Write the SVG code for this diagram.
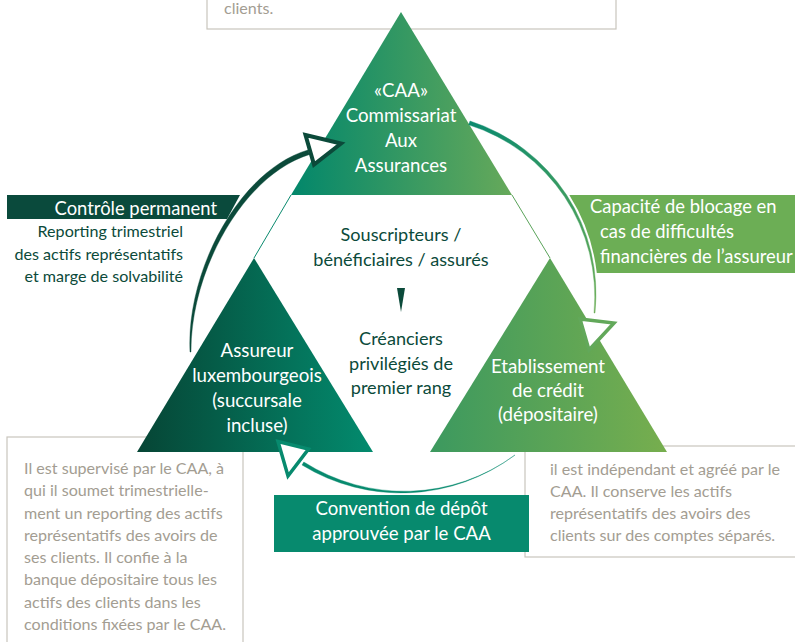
<svg xmlns="http://www.w3.org/2000/svg" width="795" height="642" viewBox="0 0 795 642">
<defs>
<linearGradient id="gTop" gradientUnits="userSpaceOnUse" x1="291" y1="0" x2="512" y2="0"><stop offset="0" stop-color="#02876b"/><stop offset="1" stop-color="#66a95a"/></linearGradient>
<linearGradient id="gLeft" gradientUnits="userSpaceOnUse" x1="137" y1="0" x2="373" y2="0"><stop offset="0" stop-color="#064535"/><stop offset="1" stop-color="#038b6e"/></linearGradient>
<linearGradient id="gRight" gradientUnits="userSpaceOnUse" x1="430" y1="0" x2="667" y2="0"><stop offset="0" stop-color="#3c995f"/><stop offset="1" stop-color="#77ae4e"/></linearGradient>
<linearGradient id="gArcR" gradientUnits="userSpaceOnUse" x1="470" y1="121" x2="595" y2="313"><stop offset="0" stop-color="#0a8a6e"/><stop offset="1" stop-color="#6aad55"/></linearGradient>
<linearGradient id="gShH" x1="0" y1="0" x2="1" y2="0"><stop offset="0" stop-color="#a8a49b" stop-opacity="0"/><stop offset="0.15" stop-color="#a8a49b"/><stop offset="1" stop-color="#a8a49b"/></linearGradient>
</defs>
<style>
text{font-family:Lato,"Open Sans","Liberation Sans",sans-serif}
.w{fill:#fff;font-size:18.7px;text-anchor:middle}
.wl{fill:#fff;font-size:18.4px}
.d{fill:#0b4a3a;font-size:18.1px;text-anchor:middle}
.dr{fill:#0b4a3a;font-size:16.1px;text-anchor:end}
.g{fill:#a39d92;font-size:16.1px}
.bx{fill:#fff;stroke:#c9c5bd;stroke-width:1.2}
.sh{fill:none;stroke:url(#gShH);stroke-width:2}
.ah{fill:#fff;stroke-linejoin:miter}
</style>

<g id="box-top">
<rect class="bx" x="207" y="-20" width="409" height="49"/>
<line class="sh" x1="198" y1="29" x2="617" y2="29"/>
<text class="g" x="224" y="14">clients.</text>
</g>

<g id="box-left">
<rect class="bx" x="7" y="437" width="236" height="230"/>
<line class="sh" x1="0" y1="437" x2="150" y2="437"/>
<text class="g" x="24" y="474">Il est supervisé par le CAA, à</text>
<text class="g" x="24" y="496.3">qui il soumet trimestrielle-</text>
<text class="g" x="24" y="518.6">ment un reporting des actifs</text>
<text class="g" x="24" y="540.9">représentatifs des avoirs de</text>
<text class="g" x="24" y="563.1">ses clients. Il confie à la</text>
<text class="g" x="24" y="585.4">banque dépositaire tous les</text>
<text class="g" x="24" y="607.7">actifs des clients dans les</text>
<text class="g" x="24" y="630">conditions fixées par le CAA.</text>
</g>

<g id="box-right">
<rect class="bx" x="525" y="446" width="280" height="111"/>
<line class="sh" x1="640" y1="446" x2="795" y2="446"/>
<line class="sh" x1="515" y1="557" x2="795" y2="557"/>
<text class="g" x="550" y="475">il est indépendant et agréé par le</text>
<text class="g" x="550" y="497">CAA. Il conserve les actifs</text>
<text class="g" x="550" y="519">représentatifs des avoirs des</text>
<text class="g" x="550" y="541">clients sur des comptes séparés.</text>
</g>

<g id="controle">
<polygon points="7,195 240,195 227,219 7,219" fill="#0a4a3c"/>
<text class="wl" x="217" y="215" text-anchor="end">Contrôle permanent</text>
<text class="dr" x="183" y="237">Reporting trimestriel</text>
<text class="dr" x="183" y="259.5">des actifs représentatifs</text>
<text class="dr" x="183" y="282">et marge de solvabilité</text>
</g>

<g id="capacite">
<path d="M569.3,195 L795,195 L795,273 L596.8,273 A185,185 0 0 0 569.3,195 Z" fill="#6cae55"/>
<text class="wl" x="590" y="213">Capacité de blocage en</text>
<text class="wl" x="600" y="238">cas de difficultés</text>
<text class="wl" x="600" y="262.5">financières de l’assureur</text>
</g>

<g id="convention">
<rect x="274" y="495" width="255" height="57" fill="#078a6e"/>
<text class="w" x="401.5" y="515" style="font-size:18.6px">Convention de dépôt</text>
<text class="w" x="401.5" y="540" style="font-size:18.6px">approuvée par le CAA</text>
</g>

<g id="outline">
<line x1="291" y1="195" x2="254" y2="258" stroke="#0a8a6e" stroke-width="1"/>
<line x1="512" y1="195" x2="550" y2="258" stroke="#5aa35a" stroke-width="1"/>
</g>

<g id="caa">
<polygon points="401,12 291,195 512,195" fill="url(#gTop)"/>
<text class="w" x="401" y="97">«CAA»</text>
<text class="w" x="401" y="122">Commissariat</text>
<text class="w" x="401" y="147">Aux</text>
<text class="w" x="401" y="172">Assurances</text>
</g>

<g id="assureur">
<polygon points="254,258 137,452 373,452" fill="url(#gLeft)"/>
<text class="w" x="257" y="356.5">Assureur</text>
<text class="w" x="257" y="381.5">luxembourgeois</text>
<text class="w" x="257" y="406.5">(succursale</text>
<text class="w" x="257" y="431.5">incluse)</text>
</g>

<g id="etablissement">
<polygon points="550,258 430,452 667,452" fill="url(#gRight)"/>
<text class="w" x="548" y="372.5">Etablissement</text>
<text class="w" x="548" y="397">de crédit</text>
<text class="w" x="548" y="421">(dépositaire)</text>
</g>

<g id="center">
<text class="d" x="401" y="240.5">Souscripteurs /</text>
<text class="d" x="401" y="266">bénéficiaires / assurés</text>
<polygon points="397,288 405,288 401,312" fill="#0b4a3a"/>
<text class="d" x="401" y="345">Créanciers</text>
<text class="d" x="401" y="370">privilégiés de</text>
<text class="d" x="401" y="394">premier rang</text>
</g>

<g id="connectors">
<path d="M190,352 C186,270 240,170 308,150 L309.5,154.5 C243,175 190.5,271 191,352 Z" fill="#0b4a3a" stroke="#0b4a3a" stroke-width="0.4"/>
<path class="ah" d="M305.5,135 L341,143.5 L314,164.5 Z" stroke="#0b4a3a" stroke-width="4"/>
<path d="M470,121 A182,182 0 0 1 595,313 L594,313 A180,180 0 0 0 468.7,124.8 Z" fill="url(#gArcR)" stroke="url(#gArcR)" stroke-width="0.4"/>
<path class="ah" d="M580,319 L614,323 L589,350 Z" stroke="#62a85a" stroke-width="3.5"/>
<path d="M515,455 A190,190 0 0 1 302,465 L303.8,462 A187,187 0 0 0 515,455 Z" fill="#078a6e" stroke="#078a6e" stroke-width="0.4"/>
<path class="ah" d="M278,441.5 L308.5,449 L288,476 Z" stroke="#078a6e" stroke-width="3.5"/>
</g>
</svg>
